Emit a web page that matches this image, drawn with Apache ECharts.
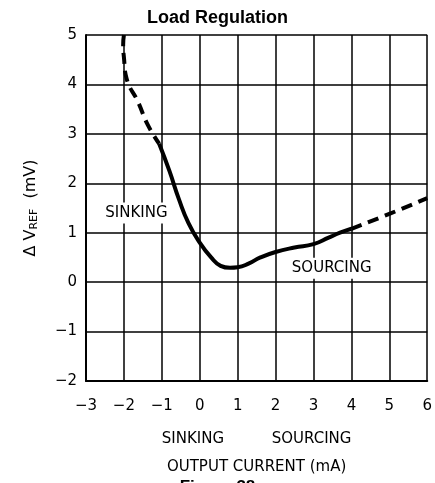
<!DOCTYPE html>
<html><head><meta charset="utf-8">
<script src="https://cdn.jsdelivr.net/npm/echarts@6/dist/echarts.min.js"></script>
<style>html,body{margin:0;padding:0;background:#fff}#c{width:435px;height:483px}</style>
</head><body><div id="c"></div>
<script>
const xTicks = [-3,-2,-1,0,1,2,3,4,5,6];
const yTicks = [-2,-1,0,1,2,3,4,5];
const sinkDashed = [[-2.0,5.0],[-2.02,4.8],[-2.0,4.55],[-1.93,4.12],[-1.63,3.65],[-1.37,3.18],[-1.07,2.8]];
const solidCurve = [[-1.07,2.8],[-0.8,2.25],[-0.55,1.68],[-0.3,1.2],[0,0.8],[0.3,0.5],[0.55,0.33],[0.8,0.29],[1.0,0.3],[1.3,0.38],[1.6,0.5],[2.0,0.61],[2.5,0.7],[3.0,0.77],[3.4,0.9],[3.7,1.0],[4.0,1.08]];
const sourceDashed = [[4.0,1.08],[5.0,1.38],[6.0,1.7]];
const annotations = [{name:'SINKING', coord:[-1.67,1.4]},{name:'SOURCING', coord:[3.48,0.28]}];
const font = 'DejaVu Sans';
const minus = v=>String(v).replace('-','\u2212');
const chart = echarts.init(document.getElementById('c'));
chart.setOption({
  animation:false,
  title:{text:'Load Regulation',left:'center',top:4,textStyle:{fontFamily:'Liberation Sans',fontWeight:'bold',fontSize:18,color:'#000'}},
  grid:{left:86,right:5,top:35,bottom:102},
  xAxis:{type:'value',min:-3,max:6,interval:1,
    axisLine:{show:true,onZero:false,lineStyle:{color:'#000',width:2}},
    axisTick:{show:false},
    splitLine:{show:true,lineStyle:{color:'#000',width:1.5}},
    axisLabel:{color:'#000',fontFamily:font,fontSize:15,margin:18,formatter:minus},
    name:'SINKING          SOURCING\n\nOUTPUT CURRENT (mA)',nameLocation:'middle',nameGap:51,
    nameTextStyle:{color:'#000',fontFamily:font,fontSize:15,lineHeight:14}
  },
  yAxis:{type:'value',min:-2,max:5,interval:1,
    axisLine:{show:true,onZero:false,lineStyle:{color:'#000',width:2}},
    axisTick:{show:false},
    splitLine:{show:true,lineStyle:{color:'#000',width:1.5}},
    axisLabel:{color:'#000',fontFamily:font,fontSize:15,margin:9,formatter:minus},
    name:'{a|\u0394 V}{s|REF}{a|  (mV)}',nameLocation:'middle',nameGap:46,nameRotate:90,
    nameTextStyle:{rich:{a:{color:'#000',fontFamily:font,fontSize:16},s:{color:'#000',fontFamily:font,fontSize:11,padding:[8,0,0,0]}}}
  },
  series:[
    {type:'line',data:sinkDashed,smooth:true,symbol:'none',lineStyle:{color:'#000',width:4,type:[11,7]},z:5},
    {type:'line',data:solidCurve,smooth:true,symbol:'none',lineStyle:{color:'#000',width:4},z:5,
      markPoint:{symbol:'rect',symbolSize:0,silent:true,data:annotations,
        label:{show:true,position:'inside',formatter:p=>p.name,color:'#000',fontFamily:font,fontSize:15,backgroundColor:'#fff',padding:[3,4]}}},
    {type:'line',data:sourceDashed,smooth:true,symbol:'none',lineStyle:{color:'#000',width:4,type:[11,7]},z:5}
  ],
  graphic:[{type:'text',left:'center',top:479,style:{text:'Figure 38',font:'bold 17px "Liberation Sans"',fill:'#000'}}]
});
</script></body></html>
